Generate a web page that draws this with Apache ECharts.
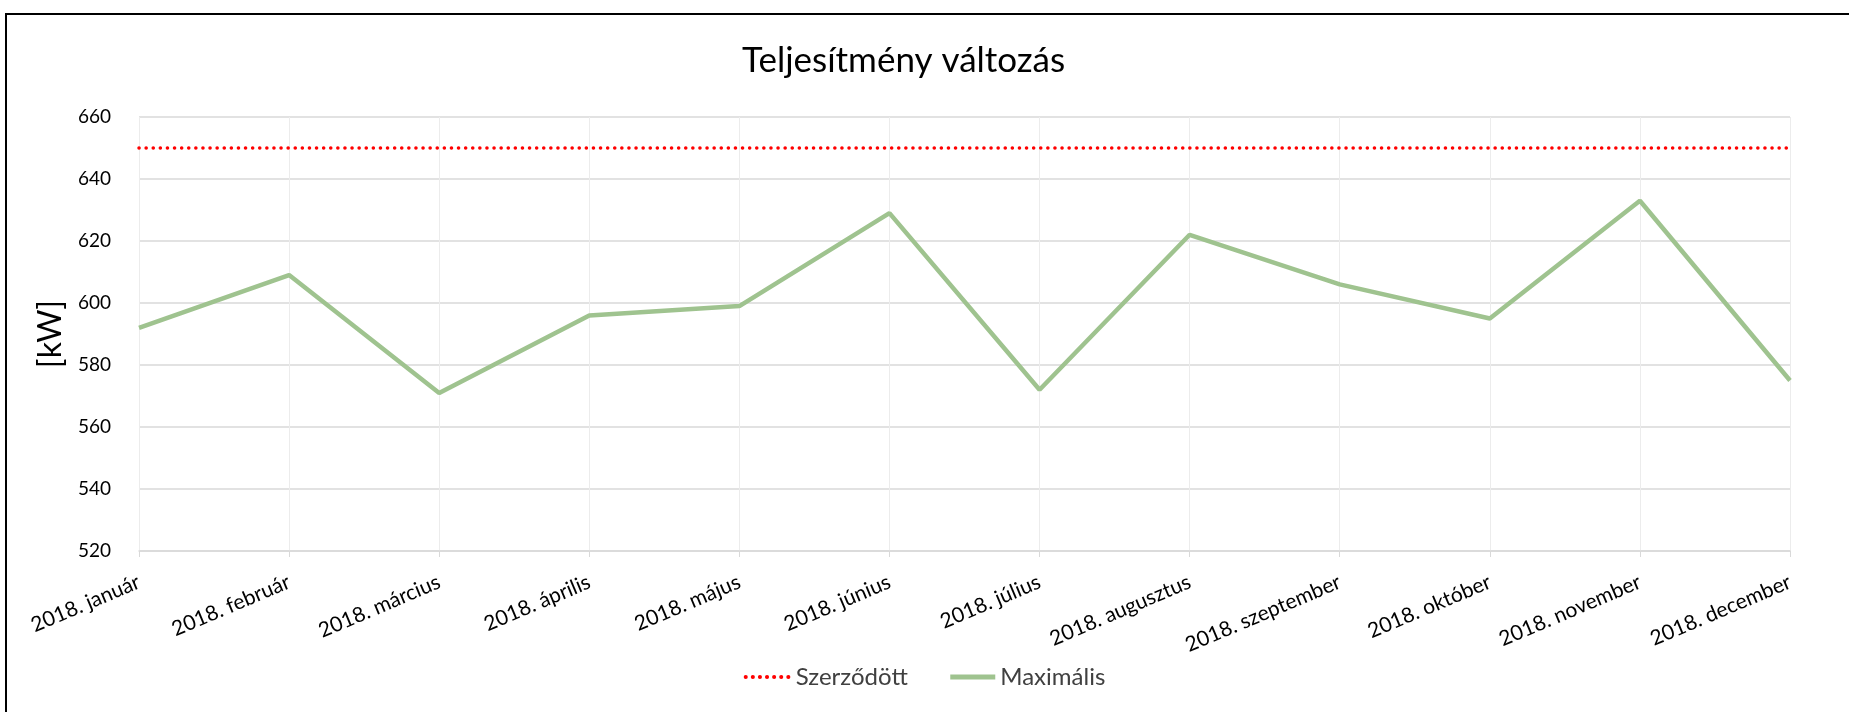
<!DOCTYPE html>
<html>
<head>
<meta charset="utf-8">
<script src="https://cdn.jsdelivr.net/npm/echarts@6/dist/echarts.min.js"></script>
<style>
  html, body { margin: 0; padding: 0; background: #fff; }
  #chart { width: 1849px; height: 712px; }
</style>
</head>
<body>
<div id="chart"></div>
<script>
// chart data
const months = [
  '2018. január', '2018. február', '2018. március', '2018. április',
  '2018. május', '2018. június', '2018. július', '2018. augusztus',
  '2018. szeptember', '2018. október', '2018. november', '2018. december'
]
const contracted = [650, 650, 650, 650, 650, 650, 650, 650, 650, 650, 650, 650]
const maximal = [592, 609, 571, 596, 599, 629, 572, 622, 606, 595, 633, 575]
const yTicks = { min: 520, max: 660, step: 20 }

const font = 'Lato, "Open Sans", sans-serif'
const chart = echarts.init(document.getElementById('chart'))

chart.setOption({
  animation: false,
  textStyle: { fontFamily: font },
  title: {
    text: 'Teljesítmény változás',
    left: 737,
    top: 38,
    textStyle: { fontFamily: font, fontSize: 35, fontWeight: 'normal', color: '#000' }
  },
  graphic: [{
    type: 'rect',
    shape: { x: 6, y: 14, width: 1900, height: 800 },
    style: { fill: 'none', stroke: '#000', lineWidth: 2 }
  }],
  legend: {
    top: 660,
    left: 'center',
    itemWidth: 45,
    itemHeight: 12,
    itemGap: 40,
    itemStyle: { opacity: 0 },
    textStyle: { fontFamily: font, fontSize: 24, color: '#404040' },
    data: [
      { name: 'Szerződött', lineStyle: { width: 4 } },
      { name: 'Maximális', lineStyle: { width: 5 } }
    ]
  },
  grid: { left: 139, right: 59, top: 117, bottom: 161 },
  xAxis: {
    type: 'category',
    data: months,
    boundaryGap: false,
    axisLine: { lineStyle: { color: '#d9d9d9', width: 1.5 } },
    axisTick: { show: true, length: 6, lineStyle: { color: '#d9d9d9' } },
    splitLine: { show: true, lineStyle: { color: '#ececec', width: 1 } },
    axisLabel: {
      rotate: 23,
      interval: 0,
      margin: 30,
      fontFamily: font,
      fontSize: 21,
      color: '#000'
    }
  },
  yAxis: {
    type: 'value',
    min: yTicks.min,
    max: yTicks.max,
    interval: yTicks.step,
    name: '[kW]',
    nameLocation: 'middle',
    nameGap: 68,
    nameRotate: 90,
    nameTextStyle: { fontFamily: font, fontSize: 32, color: '#000' },
    axisLine: { show: false },
    axisTick: { show: false },
    splitLine: { lineStyle: { color: '#d9d9d9', width: 1.5 } },
    axisLabel: { fontFamily: font, fontSize: 19, color: '#000', margin: 28 }
  },
  series: [
    {
      name: 'Szerződött',
      type: 'line',
      data: contracted,
      symbol: 'none',
      lineStyle: { color: '#ff0000', width: 3.5, type: [0.1, 7], cap: 'round' },
      itemStyle: { color: '#ff0000' }
    },
    {
      name: 'Maximális',
      type: 'line',
      data: maximal,
      symbol: 'none',
      lineStyle: { color: '#9fc38f', width: 4.5 },
      itemStyle: { color: '#9fc38f' }
    }
  ]
})
</script>
</body>
</html>
